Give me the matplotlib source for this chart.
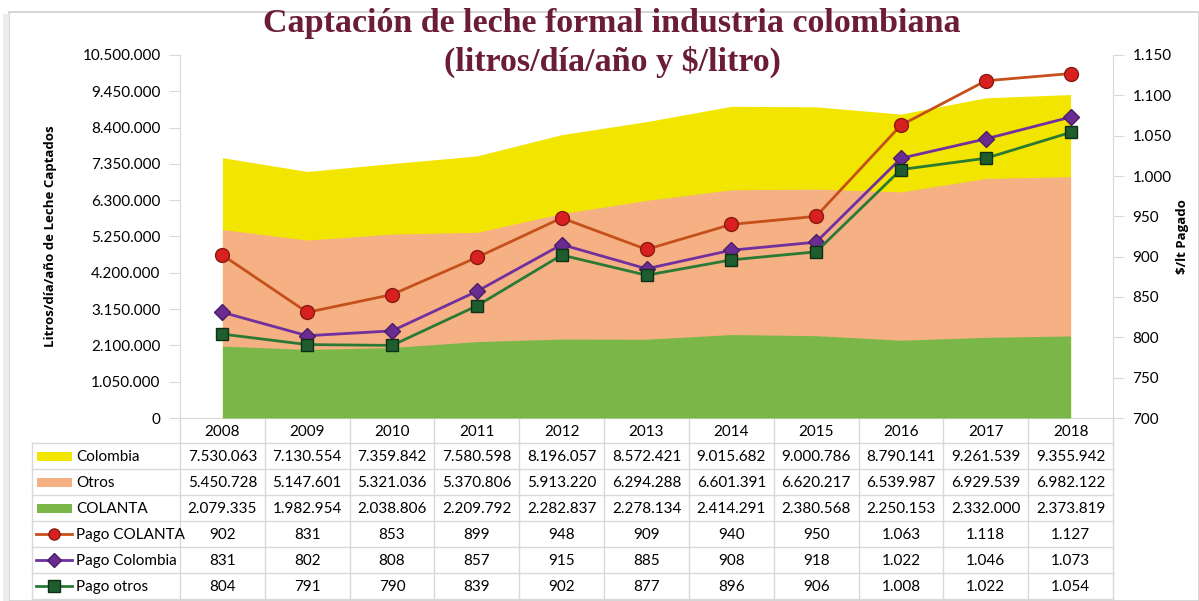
import matplotlib.pyplot as plt
from matplotlib.patches import Rectangle
from matplotlib.lines import Line2D

years = ['2008', '2009', '2010', '2011', '2012', '2013', '2014', '2015', '2016', '2017', '2018']
colombia = [7530063, 7130554, 7359842, 7580598, 8196057, 8572421, 9015682, 9000786, 8790141, 9261539, 9355942]
otros = [5450728, 5147601, 5321036, 5370806, 5913220, 6294288, 6601391, 6620217, 6539987, 6929539, 6982122]
colanta = [2079335, 1982954, 2038806, 2209792, 2282837, 2278134, 2414291, 2380568, 2250153, 2332000, 2373819]
pago_colanta = [902, 831, 853, 899, 948, 909, 940, 950, 1063, 1118, 1127]
pago_colombia = [831, 802, 808, 857, 915, 885, 908, 918, 1022, 1046, 1073]
pago_otros = [804, 791, 790, 839, 902, 877, 896, 906, 1008, 1022, 1054]

W, H = 1199, 601
FONT = 'Lato'
GRID = '#d9d9d9'

def miles(v):
    return f'{v:,.0f}'.replace(',', '.')

fig = plt.figure(figsize=(W / 100, H / 100), dpi=100)

# marco del grafico
fig.patches.append(Rectangle((9 / W, 0), 1 - 9 / W, 1 - 12 / H, transform=fig.transFigure,
                             fill=False, edgecolor='#d0d0d0', lw=1.2))
fig.patches.append(Rectangle((3 / W, 0), 6 / W, 1 - 14 / H, transform=fig.transFigure,
                             facecolor='#ececec', edgecolor='none'))

x0, x1, ytop, ybot = 180, 1113, 55, 418
ax = fig.add_axes([x0 / W, 1 - ybot / H, (x1 - x0) / W, (ybot - ytop) / H])
x = list(range(len(years)))

ax.fill_between(x, colombia, color='#f2e600', lw=0, zorder=1)
ax.fill_between(x, otros, color='#f5b183', lw=0, zorder=2)
ax.fill_between(x, colanta, color='#7ab648', lw=0, zorder=3)
ax.set_xlim(-0.5, len(years) - 0.5)
ax.set_ylim(0, 10500000)
ax.set_yticks(range(0, 10500001, 1050000))
ax.set_yticklabels([miles(v) for v in range(0, 10500001, 1050000)], fontsize=11, family=FONT)
ax.set_xticks([])
for s in ['top', 'right']:
    ax.spines[s].set_visible(False)
for s in ['left', 'bottom']:
    ax.spines[s].set_color(GRID)
ax.tick_params(axis='y', color=GRID, length=8, pad=6)
ax.set_ylabel('Litros/día/año de Leche Captados', fontsize=9.5, fontweight='bold', family='Open Sans')
ax.yaxis.set_label_coords((57 - x0) / (x1 - x0), 0.5)

ax2 = ax.twinx()
ax2.set_zorder(ax.get_zorder() + 1)
ax2.patch.set_visible(False)
ax2.plot(x, pago_colanta, color='#c5501b', lw=2, marker='o', ms=10, mfc='#d82020', mec='#8a1a10', zorder=5)
ax2.plot(x, pago_colombia, color='#7030a0', lw=2, marker='D', ms=8, mfc='#6a2c91', mec='#4a1c6a', zorder=5)
ax2.plot(x, pago_otros, color='#2a7a35', lw=2, marker='s', ms=9, mfc='#1f5c2e', mec='#0f2f14', zorder=5)
ax2.set_ylim(700, 1150)
ax2.set_yticks(range(700, 1151, 50))
ax2.set_yticklabels([miles(v) for v in range(700, 1151, 50)], fontsize=11, family=FONT)
for s in ['top', 'left', 'bottom']:
    ax2.spines[s].set_visible(False)
ax2.spines['right'].set_color(GRID)
ax2.tick_params(axis='y', color=GRID, length=8, pad=6)
ax2.set_ylabel('$/lt Pagado', fontsize=9.5, fontweight='bold', family='Open Sans')
ax2.yaxis.set_label_coords((1176 - x0) / (x1 - x0), 0.5)

fig.text(612 / W, 1 - 43 / H, 'Captación de leche formal industria colombiana\n(litros/día/año y $/litro)',
         ha='center', va='center', fontsize=24.5, fontweight='bold', family='Liberation Serif',
         color='#6b1d38', linespacing=1.28)

# tabla de datos
tab = fig.add_axes([0, 0, 1, 1], zorder=-1)
tab.set_xlim(0, W)
tab.set_ylim(H, 0)
tab.axis('off')
tab.patch.set_visible(False)

cw = (x1 - x0) / len(years)
head_b = 443
row_h = 26
rows = [('Colombia', colombia), ('Otros', otros), ('COLANTA', colanta),
        ('Pago COLANTA', pago_colanta), ('Pago Colombia', pago_colombia), ('Pago otros', pago_otros)]
tab_b = head_b + row_h * len(rows)

for i in range(len(years) + 1):
    tab.plot([x0 + i * cw] * 2, [ybot, tab_b], color=GRID, lw=1)
tab.plot([32, 32], [head_b, tab_b], color=GRID, lw=1)
for r in range(len(rows) + 1):
    tab.plot([32, x1], [head_b + r * row_h] * 2, color=GRID, lw=1)
for i, yr in enumerate(years):
    tab.text(x0 + (i + 0.5) * cw, (ybot + head_b) / 2 + 1, yr, ha='center', va='center', fontsize=11, family=FONT)

keys = [('area', '#f2e600'), ('area', '#f5b183'), ('area', '#7ab648'),
        ('line', ('#c5501b', 'o', 8, '#d82020', '#8a1a10')),
        ('line', ('#7030a0', 'D', 7, '#6a2c91', '#4a1c6a')),
        ('line', ('#2a7a35', 's', 8, '#1f5c2e', '#0f2f14'))]
for r, ((name, vals), (kind, st)) in enumerate(zip(rows, keys)):
    yc = head_b + (r + 0.5) * row_h
    if kind == 'area':
        tab.add_patch(Rectangle((37, yc - 4.5), 35, 9, facecolor=st, edgecolor='none'))
    else:
        tab.add_line(Line2D([36, 72], [yc, yc], color=st[0], lw=2))
        tab.plot([54], [yc], marker=st[1], ms=st[2], mfc=st[3], mec=st[4], ls='none')
    tab.text(76, yc + 1, name, ha='left', va='center', fontsize=11, family=FONT)
    for i, v in enumerate(vals):
        tab.text(x0 + (i + 0.5) * cw, yc + 1, miles(v), ha='center', va='center', fontsize=11, family=FONT)

fig.savefig('out.png', dpi=100)
